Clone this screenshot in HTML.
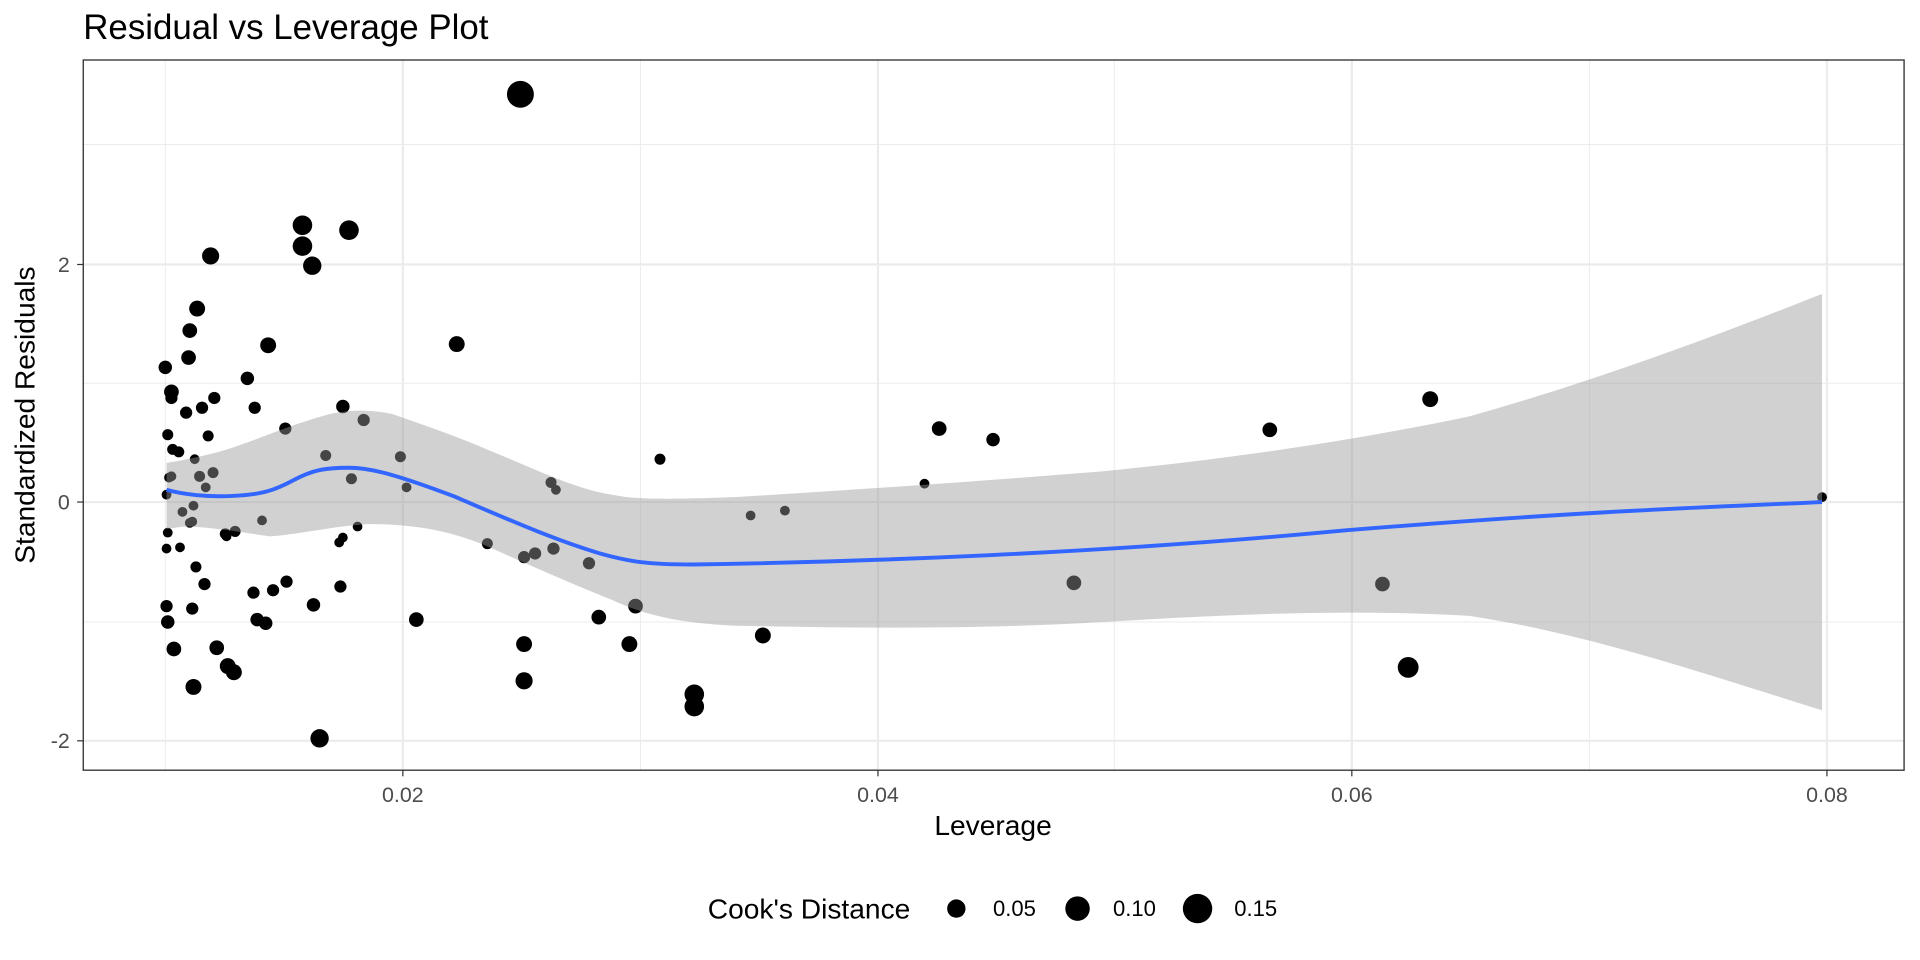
<!DOCTYPE html>
<html><head><meta charset="utf-8"><style>
html,body{margin:0;padding:0;background:#fff;}
svg{display:block;}
text{font-family:"Liberation Sans",Arial,sans-serif;}
</style></head><body>
<svg width="1920" height="960" viewBox="0 0 1568 784" xmlns="http://www.w3.org/2000/svg">
<rect width="1568" height="784" fill="#fff"/>
<text x="68" y="32" font-size="28.5" fill="#000">Residual vs Leverage Plot</text>
<g stroke="#ebebeb" stroke-width="0.8">
<line x1="135" y1="49" x2="135" y2="629"/><line x1="523" y1="49" x2="523" y2="629"/><line x1="910" y1="49" x2="910" y2="629"/><line x1="1298" y1="49" x2="1298" y2="629"/>
<line x1="68" y1="118" x2="1555" y2="118"/><line x1="68" y1="313" x2="1555" y2="313"/><line x1="68" y1="508" x2="1555" y2="508"/>
</g>
<g stroke="#ebebeb" stroke-width="1.8">
<line x1="329" y1="49" x2="329" y2="629"/><line x1="717" y1="49" x2="717" y2="629"/><line x1="1104" y1="49" x2="1104" y2="629"/><line x1="1492" y1="49" x2="1492" y2="629"/>
<line x1="68" y1="216" x2="1555" y2="216"/><line x1="68" y1="410" x2="1555" y2="410"/><line x1="68" y1="605" x2="1555" y2="605"/>
</g>
<g fill="#000">
<circle cx="425" cy="77" r="11"/><circle cx="247" cy="184" r="8"/><circle cx="285" cy="188" r="8"/><circle cx="247" cy="201" r="8"/><circle cx="255" cy="217" r="7.5"/><circle cx="172" cy="209" r="7"/><circle cx="161" cy="252" r="6.5"/><circle cx="155" cy="270" r="6"/><circle cx="154" cy="292" r="6"/><circle cx="219" cy="282" r="6.5"/><circle cx="373" cy="281" r="6.5"/><circle cx="135" cy="300" r="5.5"/><circle cx="202" cy="309" r="5.5"/><circle cx="140" cy="320" r="6"/><circle cx="140" cy="325" r="5"/><circle cx="175" cy="325" r="5"/><circle cx="152" cy="337" r="5"/><circle cx="165" cy="333" r="5"/><circle cx="208" cy="333" r="5"/><circle cx="280" cy="332" r="5.5"/><circle cx="297" cy="343" r="5"/><circle cx="137" cy="355" r="4.5"/><circle cx="170" cy="356" r="4.5"/><circle cx="233" cy="350" r="5"/><circle cx="141" cy="367" r="4.5"/><circle cx="146" cy="369" r="4.5"/><circle cx="159" cy="375" r="4"/><circle cx="266" cy="372" r="4.5"/><circle cx="327" cy="373" r="4.5"/><circle cx="539" cy="375" r="4.5"/><circle cx="138" cy="390" r="4"/><circle cx="140" cy="389" r="4"/><circle cx="174" cy="386" r="4.5"/><circle cx="163" cy="389" r="4.5"/><circle cx="168" cy="398" r="4"/><circle cx="287" cy="391" r="4.5"/><circle cx="332" cy="398" r="4"/><circle cx="450" cy="394" r="4.5"/><circle cx="454" cy="400" r="4"/><circle cx="755" cy="395" r="4"/><circle cx="767" cy="350" r="6"/><circle cx="811" cy="359" r="5.5"/><circle cx="1037" cy="351" r="6"/><circle cx="1168" cy="326" r="6.5"/><circle cx="1488" cy="406" r="4"/><circle cx="136" cy="404" r="4"/><circle cx="149" cy="418" r="4"/><circle cx="158" cy="413" r="4"/><circle cx="214" cy="425" r="4"/><circle cx="157" cy="426" r="4"/><circle cx="137" cy="435" r="4"/><circle cx="292" cy="430" r="4"/><circle cx="184" cy="436" r="4.5"/><circle cx="192" cy="434" r="4.5"/><circle cx="155" cy="427" r="4"/><circle cx="280" cy="439" r="4"/><circle cx="277" cy="443" r="4"/><circle cx="185" cy="438" r="4"/><circle cx="136" cy="448" r="4"/><circle cx="147" cy="447" r="4"/><circle cx="613" cy="421" r="4"/><circle cx="641" cy="417" r="4"/><circle cx="398" cy="444" r="4.5"/><circle cx="437" cy="452" r="5"/><circle cx="428" cy="455" r="5"/><circle cx="452" cy="448" r="5"/><circle cx="481" cy="460" r="5"/><circle cx="160" cy="463" r="4.5"/><circle cx="167" cy="477" r="5"/><circle cx="234" cy="475" r="5"/><circle cx="278" cy="479" r="5"/><circle cx="207" cy="484" r="5"/><circle cx="223" cy="482" r="5"/><circle cx="877" cy="476" r="6"/><circle cx="1129" cy="477" r="6"/><circle cx="157" cy="497" r="5"/><circle cx="136" cy="495" r="5"/><circle cx="256" cy="494" r="5.5"/><circle cx="519" cy="495" r="6"/><circle cx="489" cy="504" r="6"/><circle cx="340" cy="506" r="6"/><circle cx="210" cy="506" r="5.5"/><circle cx="217" cy="509" r="5.5"/><circle cx="137" cy="508" r="5.5"/><circle cx="177" cy="529" r="6"/><circle cx="142" cy="530" r="6"/><circle cx="428" cy="526" r="6.5"/><circle cx="514" cy="526" r="6.5"/><circle cx="623" cy="519" r="6.5"/><circle cx="186" cy="544" r="6.5"/><circle cx="191" cy="549" r="6.5"/><circle cx="158" cy="561" r="6.5"/><circle cx="428" cy="556" r="7"/><circle cx="567" cy="567" r="8"/><circle cx="567" cy="577" r="8"/><circle cx="1150" cy="545" r="8.5"/><circle cx="261" cy="603" r="7.5"/>
</g>
<path fill="#999" fill-opacity="0.45" d="M136,378 C150,376 180,370 200,362 C220,355 240,346 270,338 C285,335 300,334 320,338 C340,345 370,355 400,368 C430,380 470,400 500,404 C520,408 540,408 600,406 C700,400 800,393 900,385 C1000,375 1100,361 1200,340 C1300,312 1400,275 1488,240 L1488,580 C1400,553 1300,518 1200,503 C1100,497 1000,502 900,508 C800,514 700,513 600,511 C560,509 530,504 500,490 C470,478 440,465 400,447 C370,434 340,428 300,428 C270,430 240,437 220,438 C200,435 170,430 150,430 L136,432 Z"/>
<path fill="none" stroke="#3366ff" stroke-width="3.2" d="M136,400 C150,404 170,406 190,405 C215,404 225,400 240,392 C255,384 265,382 285,382 C305,382 330,390 370,405 C410,422 450,440 490,452 C515,459 530,461 565,461 C700,459 900,452 1100,433 C1300,417 1400,414 1488,410"/>
<rect x="68" y="49" width="1487" height="580" fill="none" stroke="#333" stroke-width="1.1"/>
<g stroke="#333" stroke-width="1">
<line x1="329" y1="629" x2="329" y2="634"/><line x1="717" y1="629" x2="717" y2="634"/><line x1="1104" y1="629" x2="1104" y2="634"/><line x1="1492" y1="629" x2="1492" y2="634"/>
<line x1="63" y1="216" x2="68" y2="216"/><line x1="63" y1="410" x2="68" y2="410"/><line x1="63" y1="605" x2="68" y2="605"/>
</g>
<g font-size="17.5" fill="#4d4d4d">
<text x="329" y="655" text-anchor="middle">0.02</text><text x="717" y="655" text-anchor="middle">0.04</text><text x="1104" y="655" text-anchor="middle">0.06</text><text x="1492" y="655" text-anchor="middle">0.08</text>
<text x="57" y="222" text-anchor="end">2</text><text x="57" y="416" text-anchor="end">0</text><text x="57" y="611" text-anchor="end">-2</text>
</g>
<text x="811" y="682" font-size="23" text-anchor="middle" fill="#000">Leverage</text>
<text transform="translate(28,339) rotate(-90)" font-size="23" text-anchor="middle" fill="#000">Standardized Residuals</text>
<text x="578" y="750" font-size="23" fill="#000">Cook's Distance</text>
<circle cx="781" cy="742" r="7.5" fill="#000"/><text x="811" y="748" font-size="18" fill="#000">0.05</text>
<circle cx="880" cy="742" r="10" fill="#000"/><text x="909" y="748" font-size="18" fill="#000">0.10</text>
<circle cx="978" cy="742" r="12" fill="#000"/><text x="1008" y="748" font-size="18" fill="#000">0.15</text>
</svg>
</body></html>
